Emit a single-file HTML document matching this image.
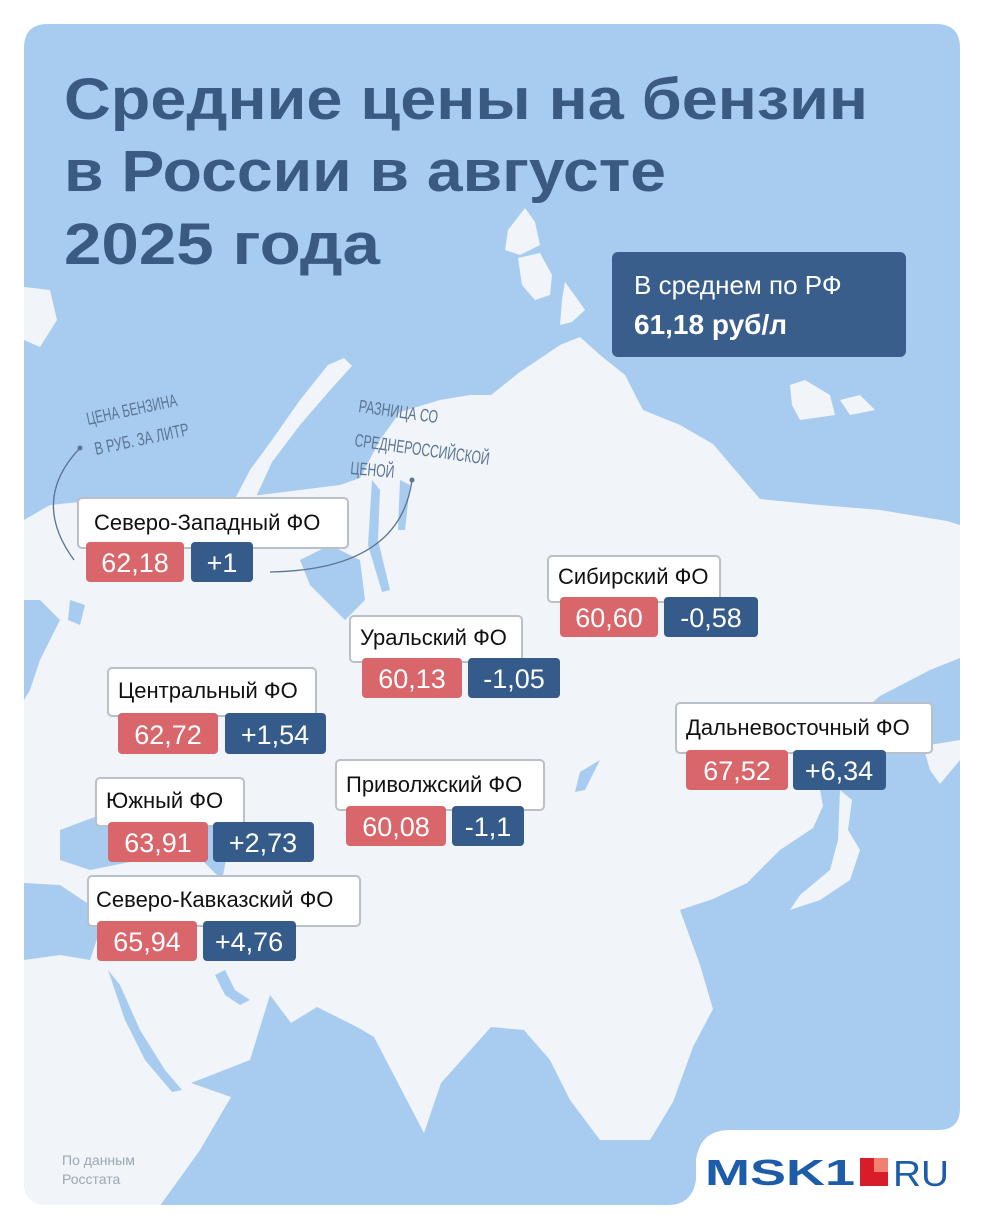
<!DOCTYPE html>
<html><head><meta charset="utf-8"><style>
html,body{margin:0;padding:0;background:#fff;}
svg{display:block}
text{font-family:"Liberation Sans",sans-serif}
</style></head><body>
<svg width="984" height="1230" viewBox="0 0 984 1230" xmlns="http://www.w3.org/2000/svg">
<defs>
<clipPath id="card"><path d="M48,24 H936 Q960,24 960,48 V1108 Q960,1130 938,1130 H730 Q700,1130 696,1160 V1180 Q692,1205 668,1205 H48 Q24,1205 24,1181 V48 Q24,24 48,24 Z"/></clipPath>
</defs>
<rect width="984" height="1230" fill="#fff"/>
<g clip-path="url(#card)">
<rect x="0" y="0" width="984" height="1230" fill="#a8ccef"/>
<!-- main land -->
<path fill="#f1f4f8" d="M24,520 L50,505 L100,500 L160,497 L240,497 L260,495 L300,490 L340,485 L360,478 L380,440 L400,412 L440,400 L470,395 L491,395 L520,372 L560,345 L580,337 L600,355 L625,375 L643,410 L680,425 L713,444 L760,499 L820,505 L880,510 L947,521 L960,525 L960,658 L930,670 L880,696 L840,730 L813,751 L823,806 L813,828 L780,850 L747,883 L713,899 L680,910 L700,965 L713,1009 L693,1047 L673,1102 L650,1140 L600,1140 L570,1100 L550,1060 L524,1030 L491,1027 L441,1083 L424,1133 L374,1037 L357,1027 L317,1007 L291,1023 L270,995 L250,1060 L191,1083 L231,1097 L200,1150 L157,1210 L157,1230 L24,1230 Z"/>
<!-- Novaya Zemlya -->
<path fill="#f1f4f8" d="M344,358 L328,365 L300,400 L272,440 L250,470 L236,497 L256,497 L272,462 L300,425 L332,388 L352,366 Z"/>
<!-- Severnaya Zemlya -->
<path fill="#f1f4f8" d="M525,208 L535,222 L540,245 L520,255 L505,250 L508,230 Z"/>
<path fill="#f1f4f8" d="M518,258 L540,253 L552,275 L550,295 L535,300 L522,285 Z"/>
<path fill="#f1f4f8" d="M565,282 L578,300 L585,310 L572,322 L560,325 L562,300 Z"/>
<!-- New Siberian islands -->
<path fill="#f1f4f8" d="M790,385 L805,380 L830,395 L835,415 L800,420 L792,405 Z"/>
<path fill="#f1f4f8" d="M840,400 L860,395 L875,410 L850,415 Z"/>
<path fill="#f1f4f8" d="M24,287 L50,290 L57,320 L40,347 L24,340 Z"/>
<!-- Kamchatka -->
<path fill="#f1f4f8" d="M923,746 L960,740 L960,760 L940,784 L930,770 Z"/>
<!-- Japan -->
<path fill="#f1f4f8" d="M840,790 L852,800 L848,830 L860,850 L850,880 L820,900 L790,910 L800,895 L830,870 L838,840 Z"/>
<!-- seas inland -->
<path fill="#a8ccef" d="M300,560 L330,545 L360,560 L365,600 L345,620 L325,600 L310,585 Z"/>
<path fill="#a8ccef" d="M372,480 L380,490 L378,540 L390,590 L382,592 L368,545 Z"/>
<path fill="#a8ccef" d="M400,480 L410,485 L405,530 L398,530 Z"/>
<path fill="#a8ccef" d="M24,600 L40,600 L60,620 L40,660 L30,690 L24,700 Z"/>
<path fill="#a8ccef" d="M70,600 L85,605 L80,625 L68,620 Z"/>
<path fill="#a8ccef" d="M60,830 L100,815 L150,830 L140,860 L90,870 L60,860 Z"/>
<path fill="#a8ccef" d="M200,800 L220,790 L230,840 L222,880 L204,862 Z"/>
<path fill="#a8ccef" d="M24,883 L60,885 L90,905 L100,930 L90,960 L60,955 L24,960 Z"/>
<path fill="#a8ccef" d="M108,970 L120,985 L140,1030 L165,1070 L182,1090 L172,1092 L145,1060 L125,1020 Z"/>
<path fill="#a8ccef" d="M215,975 L225,970 L235,990 L250,1000 L240,1005 L225,995 Z"/>
<path fill="#a8ccef" d="M580,772 L600,760 L585,790 L575,792 Z"/>
</g>
<!-- title -->
<g fill="#3b5a82" font-weight="bold" font-size="58">
<text x="64" y="119" textLength="804" lengthAdjust="spacingAndGlyphs">Средние цены на бензин</text>
<text x="64" y="191" textLength="602" lengthAdjust="spacingAndGlyphs">в России в августе</text>
<text x="64" y="264" textLength="316" lengthAdjust="spacingAndGlyphs">2025 года</text>
</g>
<!-- average -->
<rect x="612" y="252" width="294" height="105" rx="6" fill="#3a5e8c"/>
<text x="634" y="294" fill="#fff" font-size="26">В среднем по РФ</text>
<text x="634" y="334" fill="#fff" font-size="28" font-weight="bold">61,18 руб/л</text>
<!-- annotations -->
<g fill="#5b7592" font-size="18">
<text x="88" y="425" transform="rotate(-12 88 425)" textLength="92" lengthAdjust="spacingAndGlyphs">ЦЕНА БЕНЗИНА</text>
<text x="96" y="455" transform="rotate(-12 96 455)" textLength="96" lengthAdjust="spacingAndGlyphs">В РУБ. ЗА ЛИТР</text>
<text x="358" y="412" transform="rotate(8 358 412)" textLength="80" lengthAdjust="spacingAndGlyphs">РАЗНИЦА СО</text>
<text x="354" y="446" transform="rotate(8 354 446)" textLength="136" lengthAdjust="spacingAndGlyphs">СРЕДНЕРОССИЙСКОЙ</text>
<text x="350" y="474" transform="rotate(5 350 474)" textLength="44" lengthAdjust="spacingAndGlyphs">ЦЕНОЙ</text>
</g>
<g fill="none" stroke="#5b7592" stroke-width="1.3">
<path d="M80,448 Q30,500 74,560"/>
<path d="M412,480 Q400,570 270,572"/>
</g>
<circle cx="80" cy="448" r="2.5" fill="#5b7592"/><circle cx="412" cy="480" r="2.5" fill="#5b7592"/>
<!-- labels -->
<g font-size="22">
<g>
<rect x="78" y="498" width="270" height="50" rx="4" fill="#fff" stroke="#b9c0c8" stroke-width="2"/>
<text x="94" y="530" fill="#111">Северо-Западный ФО</text>
<rect x="86" y="542" width="98" height="40" rx="4" fill="#d9666b"/><text x="135" y="572" fill="#fff" font-size="27" text-anchor="middle">62,18</text>
<rect x="191" y="542" width="62" height="40" rx="4" fill="#345b8a"/><text x="222" y="572" fill="#fff" font-size="27" text-anchor="middle">+1</text>
</g>
<g>
<rect x="548" y="556" width="172" height="46" rx="4" fill="#fff" stroke="#b9c0c8" stroke-width="2"/>
<text x="558" y="584" fill="#111">Сибирский ФО</text>
<rect x="560" y="597" width="98" height="40" rx="4" fill="#d9666b"/><text x="609" y="627" fill="#fff" font-size="27" text-anchor="middle">60,60</text>
<rect x="664" y="597" width="94" height="40" rx="4" fill="#345b8a"/><text x="711" y="627" fill="#fff" font-size="27" text-anchor="middle">-0,58</text>
</g>
<g>
<rect x="350" y="616" width="172" height="46" rx="4" fill="#fff" stroke="#b9c0c8" stroke-width="2"/>
<text x="360" y="645" fill="#111">Уральский ФО</text>
<rect x="362" y="658" width="100" height="40" rx="4" fill="#d9666b"/><text x="412" y="688" fill="#fff" font-size="27" text-anchor="middle">60,13</text>
<rect x="468" y="658" width="92" height="40" rx="4" fill="#345b8a"/><text x="514" y="688" fill="#fff" font-size="27" text-anchor="middle">-1,05</text>
</g>
<g>
<rect x="108" y="668" width="208" height="48" rx="4" fill="#fff" stroke="#b9c0c8" stroke-width="2"/>
<text x="118" y="698" fill="#111">Центральный ФО</text>
<rect x="118" y="713" width="100" height="41" rx="4" fill="#d9666b"/><text x="168" y="744" fill="#fff" font-size="27" text-anchor="middle">62,72</text>
<rect x="225" y="713" width="101" height="41" rx="4" fill="#345b8a"/><text x="275" y="744" fill="#fff" font-size="27" text-anchor="middle">+1,54</text>
</g>
<g>
<rect x="676" y="703" width="256" height="50" rx="4" fill="#fff" stroke="#b9c0c8" stroke-width="2"/>
<text x="686" y="735" fill="#111">Дальневосточный ФО</text>
<rect x="686" y="750" width="102" height="40" rx="4" fill="#d9666b"/><text x="737" y="780" fill="#fff" font-size="27" text-anchor="middle">67,52</text>
<rect x="793" y="750" width="93" height="40" rx="4" fill="#345b8a"/><text x="839" y="780" fill="#fff" font-size="27" text-anchor="middle">+6,34</text>
</g>
<g>
<rect x="336" y="760" width="208" height="50" rx="4" fill="#fff" stroke="#b9c0c8" stroke-width="2"/>
<text x="346" y="792" fill="#111">Приволжский ФО</text>
<rect x="346" y="806" width="100" height="40" rx="4" fill="#d9666b"/><text x="396" y="836" fill="#fff" font-size="27" text-anchor="middle">60,08</text>
<rect x="452" y="806" width="72" height="40" rx="4" fill="#345b8a"/><text x="488" y="836" fill="#fff" font-size="27" text-anchor="middle">-1,1</text>
</g>
<g>
<rect x="96" y="778" width="148" height="48" rx="4" fill="#fff" stroke="#b9c0c8" stroke-width="2"/>
<text x="106" y="808" fill="#111">Южный ФО</text>
<rect x="108" y="822" width="100" height="40" rx="4" fill="#d9666b"/><text x="158" y="852" fill="#fff" font-size="27" text-anchor="middle">63,91</text>
<rect x="213" y="822" width="101" height="40" rx="4" fill="#345b8a"/><text x="263" y="852" fill="#fff" font-size="27" text-anchor="middle">+2,73</text>
</g>
<g>
<rect x="88" y="876" width="272" height="50" rx="4" fill="#fff" stroke="#b9c0c8" stroke-width="2"/>
<text x="96" y="907" fill="#111">Северо-Кавказский ФО</text>
<rect x="97" y="921" width="100" height="40" rx="4" fill="#d9666b"/><text x="147" y="951" fill="#fff" font-size="27" text-anchor="middle">65,94</text>
<rect x="203" y="921" width="93" height="40" rx="4" fill="#345b8a"/><text x="249" y="951" fill="#fff" font-size="27" text-anchor="middle">+4,76</text>
</g>
</g>
<!-- source -->
<text x="62" y="1165" fill="#9aa7b4" font-size="14">По данным</text>
<text x="62" y="1184" fill="#9aa7b4" font-size="14">Росстата</text>
<!-- logo -->
<text x="705" y="1185" fill="#1d5ca8" font-size="36" font-weight="900" textLength="150" lengthAdjust="spacingAndGlyphs">MSK1</text>
<rect x="860" y="1158" width="28" height="28" fill="#d91c2a"/>
<rect x="874" y="1158" width="14" height="14" fill="#f08070"/>
<text x="893" y="1186" fill="#1d5ca8" font-size="36" textLength="56" lengthAdjust="spacingAndGlyphs">RU</text>
</svg>
</body></html>
